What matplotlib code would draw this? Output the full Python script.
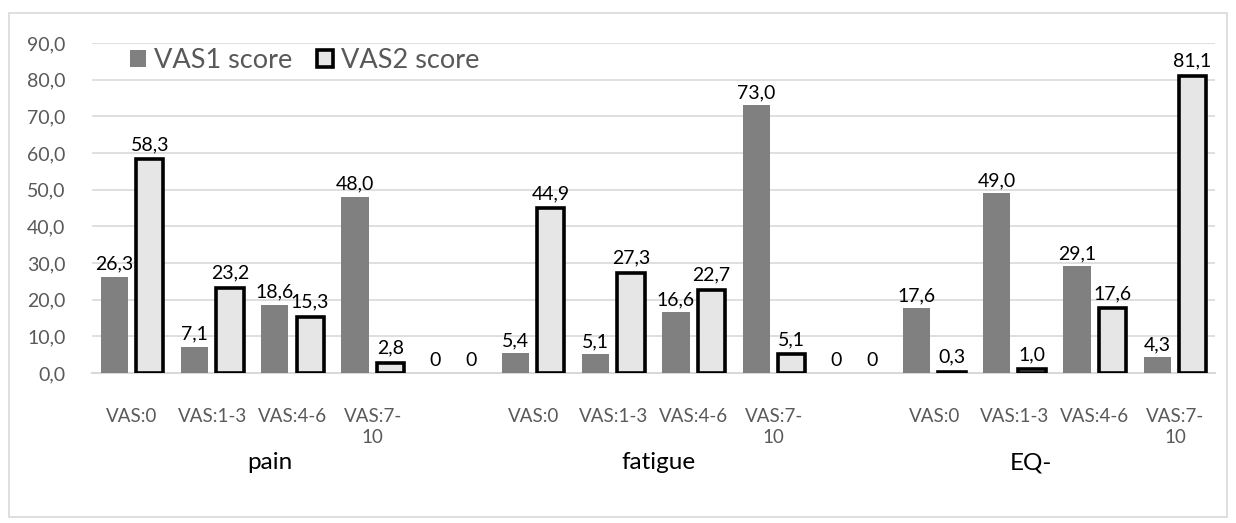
import numpy as np
import matplotlib
matplotlib.use("Agg")
import matplotlib.pyplot as plt
from matplotlib.patches import Rectangle

plt.rcParams['font.family'] = ['Lato', 'DejaVu Sans']

# Category labels (blank slots separate the groups)
categories = ['VAS:0', 'VAS:1-3', 'VAS:4-6', 'VAS:7-\n10', '',
              'VAS:0', 'VAS:1-3', 'VAS:4-6', 'VAS:7-\n10', '',
              'VAS:0', 'VAS:1-3', 'VAS:4-6', 'VAS:7-\n10']
vas1 = [26.3, 7.1, 18.6, 48.0, 0, 5.4, 5.1, 16.6, 73.0, 0, 17.6, 49.0, 29.1, 4.3]
vas2 = [58.3, 23.2, 15.3, 2.8, 0, 44.9, 27.3, 22.7, 5.1, 0, 0.3, 1.0, 17.6, 81.1]
groups = ['pain', 'fatigue', 'EQ-']
group_pos = [1.72, 6.56, 11.2]   # where the group captions sit on the category axis
yticks = np.arange(0, 91, 10)

GRID = '#d9d9d9'
TXT = '#595959'


def fmt(v):
    # Excel style: plain 0 for blank slots, comma decimals otherwise
    if v == 0:
        return '0'
    return f'{v:.1f}'.replace('.', ',')


fig = plt.figure(figsize=(12.36, 5.23), dpi=100)
ax = fig.add_axes([0.0744, 0.2868, 0.9086, 0.631])

x = np.arange(len(categories))
w = 0.34
off = 0.22
b1 = ax.bar(x - off, vas1, w, color='#808080', label='VAS1 score', zorder=3)
b2 = ax.bar(x + off, vas2, w, color='#e6e6e6', edgecolor='black', linewidth=2.6,
            label='VAS2 score', zorder=3)

# data labels
for xi, v in zip(x, vas1):
    ax.annotate(fmt(v), (xi - off, v), xytext=(0, 3), textcoords='offset points',
                ha='center', va='bottom', fontsize=14, color='black')
for xi, v in zip(x, vas2):
    ax.annotate(fmt(v), (xi + off, v), xytext=(0, 4.5 if v > 0 else 3),
                textcoords='offset points',
                ha='center', va='bottom', fontsize=14, color='black')
# blank slots have no visible bar
for bar, v in zip(b2, vas2):
    if v == 0:
        bar.set_visible(False)

ax.set_xlim(-0.5, len(categories) - 0.5)
ax.set_ylim(0, 90)
ax.set_yticks(yticks)
ax.set_yticklabels([fmt(t) if t else '0,0' for t in yticks])
ax.set_xticks(x)
ax.set_xticklabels(categories, linespacing=1.3)
ax.tick_params(axis='y', length=0, pad=19, labelsize=14, labelcolor=TXT)
ax.tick_params(axis='x', length=0, pad=25, labelsize=13.5, labelcolor=TXT)
ax.grid(axis='y', color=GRID, linewidth=1.2, zorder=0)
for s in ['top', 'right', 'left']:
    ax.spines[s].set_visible(False)
ax.spines['bottom'].set_color(GRID)
ax.spines['bottom'].set_linewidth(1.5)

for g, gp in zip(groups, group_pos):
    ax.text(gp, -24.5, g, ha='center', va='center', fontsize=17.5, color='black')

leg = ax.legend(loc='upper left', bbox_to_anchor=(0.012, 1.058), ncol=2, frameon=False,
                fontsize=19.5, handlelength=0.6, handleheight=0.6, handletextpad=0.3,
                columnspacing=0.9, labelcolor=TXT)

# outer chart border
fig.patches.append(Rectangle((9 / 1236, 6 / 523), 1218 / 1236, 504 / 523,
                             transform=fig.transFigure, fill=False,
                             edgecolor=GRID, linewidth=1.2))

fig.savefig('out.png', dpi=100)
